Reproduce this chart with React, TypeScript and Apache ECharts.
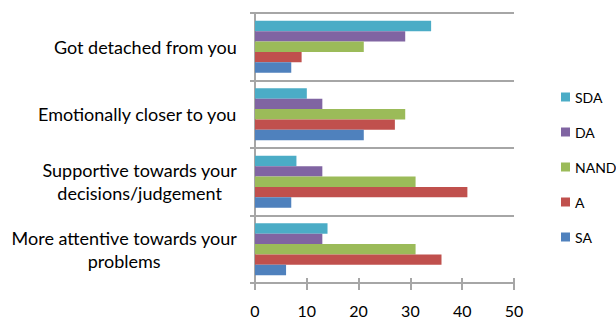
import React, { useEffect, useRef } from "react";
import * as echarts from "echarts";

// categories listed bottom-to-top (as ECharts draws a category y axis)
const categories = [
  "More attentive towards your\nproblems",
  "Supportive towards your\ndecisions/judgement",
  "Emotionally closer to you",
  "Got detached from you",
];
// series listed top-to-bottom within each category band
const seriesNames = ["SDA", "DA", "NAND", "A", "SA"];
const SDA = [14, 8, 10, 34];
const DA = [13, 13, 13, 29];
const NAND = [31, 31, 29, 21];
const A = [36, 41, 27, 9];
const SA = [6, 7, 21, 7];
const legendOrder = ["SDA", "DA", "NAND", "A", "SA"];
const xTicks = [0, 10, 20, 30, 40, 50];

const colors: Record<string, string> = {
  SA: "#4F81BD",
  A: "#C0504D",
  NAND: "#9BBB59",
  DA: "#8064A2",
  SDA: "#4BACC6",
};

export default function App() {
  const ref = useRef<HTMLDivElement>(null);
  useEffect(() => {
    document.body.style.margin = "0";
    if (!ref.current) return;
    const chart = echarts.init(ref.current, null, { renderer: "svg" });
    const values = [SDA, DA, NAND, A, SA];
    const font = "Lato";
    const gray = "#a6a6a6";
    const plotTop = 13;
    const plotBottom = 37;
    const plotHeight = 320 - plotTop - plotBottom;
    chart.setOption({
      animation: false,
      textStyle: { fontFamily: font },
      grid: { left: 255, right: 102, top: plotTop, bottom: plotBottom, containLabel: false },
      legend: {
        orient: "vertical",
        left: 556,
        top: 85,
        itemWidth: 9,
        itemHeight: 9,
        itemGap: 21,
        data: legendOrder,
        icon: "rect",
        textStyle: { fontFamily: font, fontSize: 14, color: "#000" },
      },
      xAxis: [
        {
          type: "value",
          min: xTicks[0],
          max: xTicks[xTicks.length - 1],
          interval: 10,
          axisLine: { show: true, lineStyle: { color: gray, width: 2 } },
          axisTick: { show: true, length: 7, lineStyle: { color: gray, width: 2 } },
          splitLine: { show: false },
          axisLabel: { fontFamily: font, fontSize: 16, lineHeight: 16, color: "#000", margin: 19 },
        },
        {
          // upper half of the crossing tick marks on the bottom axis
          type: "value",
          position: "top",
          offset: -plotHeight,
          min: xTicks[0],
          max: xTicks[xTicks.length - 1],
          interval: 10,
          axisLine: { show: false },
          axisTick: { show: true, length: 5, lineStyle: { color: gray, width: 2 } },
          splitLine: { show: false },
          axisLabel: { show: false },
        },
      ],
      yAxis: {
        type: "category",
        data: categories,
        axisLine: { show: true, lineStyle: { color: gray, width: 2 } },
        axisTick: { show: true, length: 5, lineStyle: { color: gray, width: 2 } },
        splitLine: { show: true, lineStyle: { color: gray, width: 2 } },
        axisLabel: {
          fontFamily: font,
          fontSize: 18,
          lineHeight: 23,
          color: "#000",
          margin: 18,
          align: "right",
          formatter: (v: string) =>
            v
              .split("\n")
              .map((l) => "{c|" + l + "}")
              .join("\n"),
          rich: {
            c: {
              align: "center",
              fontFamily: font,
              fontSize: 18,
              lineHeight: 23,
              color: "#000",
            },
          },
        },
      },
      series: seriesNames.map((name, i) => ({
        name,
        type: "bar",
        xAxisIndex: 0,
        data: values[i],
        barGap: "0%",
        barCategoryGap: "23%",
        itemStyle: { color: colors[name] },
      })),
    });
    return () => chart.dispose();
  }, []);
  return <div ref={ref} style={{ width: 616, height: 320 }} />;
}
